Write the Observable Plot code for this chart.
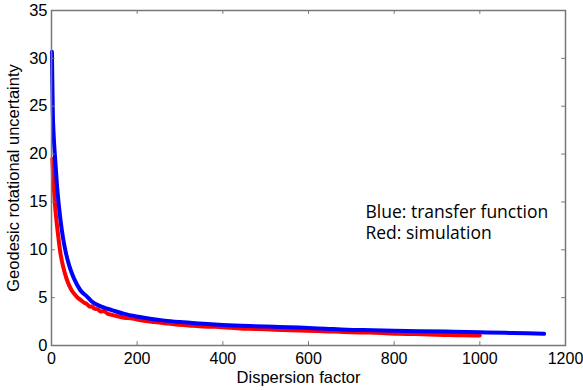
<!DOCTYPE html>
<html>
<head>
<meta charset="utf-8">
<script src="https://cdn.jsdelivr.net/npm/d3@7"></script>
<script src="https://cdn.jsdelivr.net/npm/@observablehq/plot@0.6"></script>
<style>
  html, body { margin: 0; padding: 0; background: #ffffff; }
  #chart { width: 583px; height: 390px; }
</style>
</head>
<body>
<div id="chart"></div>
<script>
// Blue: transfer function
const blueX = [1, 2, 3, 5, 8, 13, 21, 27, 34, 41, 48, 54, 67, 83, 94, 120, 141, 170, 203, 230, 264, 300, 346, 400, 462, 520, 578, 640, 690, 750, 800, 860, 920, 1000, 1060, 1110, 1150];
const blueY = [30.7, 27.5, 24.5, 22.0, 19.8, 16.6, 13.1, 11.2, 9.6, 8.4, 7.5, 6.85, 5.8, 5.1, 4.6, 4.0, 3.7, 3.3, 3.0, 2.8, 2.6, 2.45, 2.3, 2.15, 2.03, 1.95, 1.87, 1.75, 1.65, 1.6, 1.55, 1.5, 1.45, 1.38, 1.32, 1.27, 1.22];
// Red: simulation
const redX = [2, 4, 6, 8, 11, 15, 21, 28, 35, 42, 48, 55, 62, 67, 75, 82, 90, 94, 100, 108, 115, 122, 130, 141, 155, 170, 185, 203, 220, 240, 264, 290, 320, 346, 380, 420, 460, 500, 540, 578, 620, 660, 700, 740, 780, 810, 850, 880, 900, 930, 960, 1000];
const redY = [19.5, 17.6, 16.2, 14.8, 13.3, 11.7, 9.6, 8.1, 7.0, 6.2, 5.7, 5.3, 4.95, 4.8, 4.5, 4.35, 4.05, 4.1, 3.85, 3.8, 3.55, 3.6, 3.35, 3.2, 3.05, 2.9, 2.85, 2.68, 2.55, 2.45, 2.33, 2.2, 2.1, 2.0, 1.95, 1.85, 1.75, 1.7, 1.62, 1.56, 1.52, 1.45, 1.38, 1.35, 1.28, 1.22, 1.2, 1.15, 1.12, 1.1, 1.06, 1.04];

const xTicks = [0, 200, 400, 600, 800, 1000, 1200];
const yTicks = [0, 5, 10, 15, 20, 25, 30, 35];
const xLabel = "Dispersion factor";
const yLabel = "Geodesic rotational uncertainty";
const noteLines = ["Blue: transfer function", "Red: simulation"];
const noteX = 733;
const noteY = 12.92;

const blue = blueX.map((x, i) => ({x, y: blueY[i]}));
const red = redX.map((x, i) => ({x, y: redY[i]}));
const notes = [{t: noteLines.join("\n"), x: noteX, y: noteY}];

const axisGray = "#777777";
const chart = Plot.plot({
  width: 583,
  height: 390,
  marginLeft: 51,
  marginRight: 18,
  marginTop: 10,
  marginBottom: 45,
  style: {fontFamily: "'Liberation Sans', Arial, sans-serif", background: "#ffffff", color: "#000000"},
  x: {domain: [0, 1200]},
  y: {domain: [0, 35]},
  marks: [
    Plot.line(red, {x: "x", y: "y", stroke: "#ff0000", strokeWidth: 4, curve: "monotone-x"}),
    Plot.line(blue, {x: "x", y: "y", stroke: "#0000ff", strokeWidth: 4, curve: "monotone-x"}),
    Plot.ruleX(xTicks, {x: d => d, y1: 0, y2: 0.4, stroke: axisGray}),
    Plot.ruleX(xTicks, {x: d => d, y1: 35, y2: 34.6, stroke: axisGray}),
    Plot.ruleY(yTicks, {y: d => d, x1: 0, x2: 9, stroke: axisGray}),
    Plot.ruleY(yTicks, {y: d => d, x1: 1200, x2: 1191, stroke: axisGray}),
    Plot.frame({stroke: axisGray, strokeWidth: 1.5}),
    Plot.axisX(xTicks, {tickSize: 0, tickPadding: 7, fontSize: 16, tickFormat: d => String(d), label: null}),
    Plot.text([xLabel], {frameAnchor: "bottom", dx: -10, dy: 26, lineAnchor: "top", fontSize: 16.5, text: d => d, fill: "#000000"}),
    Plot.axisY(yTicks, {tickSize: 0, tickPadding: 4, fontSize: 16.5, tickFormat: d => String(d), label: yLabel, labelAnchor: "center", labelOffset: 44, labelArrow: "none"}),
    Plot.text(notes, {x: "x", y: "y", text: "t", textAnchor: "start", lineAnchor: "middle", lineHeight: 1.2, fontSize: 17.5, fontFamily: "'Open Sans', Lato, sans-serif", fill: "#000000"})
  ]
});
document.getElementById("chart").appendChild(chart);
</script>
</body>
</html>
